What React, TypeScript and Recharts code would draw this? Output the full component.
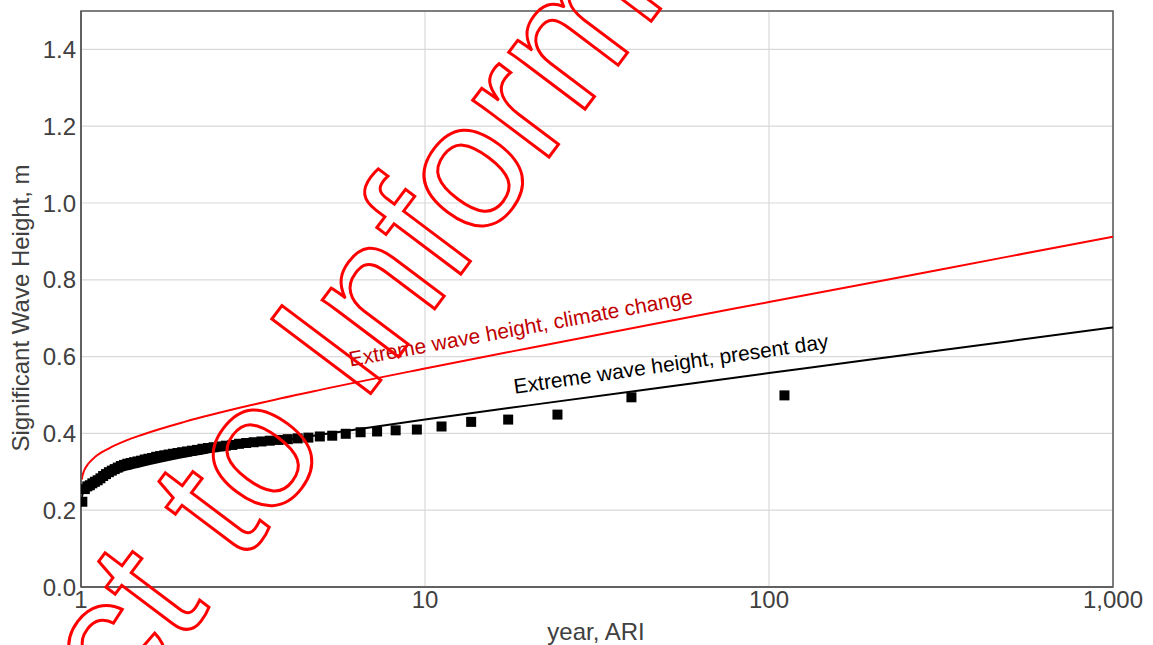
import React from 'react';
import {
  ComposedChart,
  Line,
  Scatter,
  XAxis,
  YAxis,
  CartesianGrid,
  ReferenceArea
} from 'recharts';

const FONT = '"Liberation Sans", Arial, sans-serif';

// annual maxima: return period (years) and height (m)
const obsAri = [
  110.9, 39.82, 24.27, 17.45, 13.62, 11.17, 9.47, 8.217, 7.257, 6.498,
  5.883, 5.374, 4.946, 4.581, 4.266, 3.992, 3.751, 3.538, 3.347, 3.176,
  3.021, 2.881, 2.754, 2.637, 2.529, 2.43, 2.339, 2.254, 2.175, 2.101,
  2.033, 1.968, 1.908, 1.851, 1.797, 1.747, 1.699, 1.654, 1.611, 1.57,
  1.532, 1.495, 1.46, 1.426, 1.394, 1.363, 1.334, 1.306, 1.279, 1.253,
  1.229, 1.205, 1.182, 1.16, 1.139, 1.118, 1.098, 1.079, 1.061, 1.043,
  1.026, 1.009
];
const obsHeight = [
  0.499, 0.494, 0.449, 0.436, 0.43, 0.418, 0.41, 0.408, 0.405, 0.403,
  0.399, 0.394, 0.392, 0.389, 0.387, 0.385, 0.383, 0.381, 0.379, 0.377,
  0.375, 0.373, 0.37, 0.368, 0.366, 0.364, 0.362, 0.36, 0.357, 0.355,
  0.353, 0.351, 0.349, 0.347, 0.345, 0.343, 0.341, 0.339, 0.336, 0.334,
  0.332, 0.329, 0.327, 0.325, 0.323, 0.321, 0.318, 0.315, 0.311, 0.307,
  0.303, 0.299, 0.294, 0.289, 0.283, 0.278, 0.274, 0.27, 0.265, 0.262,
  0.255, 0.222
];

// fitted extreme value curves
const curveAri = [1.005, 1.01, 1.02, 1.05, 1.1, 1.2, 1.35, 1.5, 2, 3, 5, 10, 20, 50, 100, 200, 500, 1000];
const presentDay = [0.234, 0.241, 0.249, 0.263, 0.275, 0.29, 0.305, 0.315, 0.339, 0.366, 0.397, 0.436, 0.473, 0.521, 0.557, 0.593, 0.64, 0.676];
const climateChange = [0.28, 0.29, 0.302, 0.321, 0.339, 0.36, 0.381, 0.396, 0.43, 0.47, 0.514, 0.569, 0.622, 0.691, 0.742, 0.793, 0.861, 0.912];

const xTicks = [1, 10, 100, 1000];
const yTicks = [0, 0.2, 0.4, 0.6, 0.8, 1.0, 1.2, 1.4];

const obsData = obsAri.map((x, i) => ({ x, y: obsHeight[i] }));
const presentData = curveAri.map((x, i) => ({ x, y: presentDay[i] }));
const climateData = curveAri.map((x, i) => ({ x, y: climateChange[i] }));

const Square = (props: any) => {
  const { cx, cy } = props;
  if (cx == null || cy == null) return null;
  return <rect x={cx - 5} y={cy - 5} width={10} height={10} fill="#000" />;
};

export default function App() {
  const tickStyle = { fontSize: 24, fill: '#404040', fontFamily: FONT };
  return (
    <div style={{ position: 'absolute', left: 0, top: 0, width: 1153, height: 645, background: '#fff' }}>
      <ComposedChart
        width={1153}
        height={645}
        margin={{ top: 11, right: 40, left: 0, bottom: 0 }}
      >
        <CartesianGrid stroke="#d9d9d9" strokeWidth={1.2} />
        <XAxis
          type="number"
          dataKey="x"
          scale="log"
          domain={[1, 1000]}
          ticks={xTicks}
          allowDataOverflow
          height={58}
          tickLine={false}
          tickSize={0}
          tickMargin={4}
          axisLine={{ stroke: '#595959', strokeWidth: 1.5 }}
          tick={tickStyle}
          tickFormatter={(v: number) => v.toLocaleString('en-US')}
        />
        <YAxis
          type="number"
          dataKey="y"
          domain={[0, 1.5]}
          ticks={yTicks}
          allowDataOverflow
          width={81}
          tickLine={false}
          tickSize={0}
          tickMargin={5}
          axisLine={{ stroke: '#595959', strokeWidth: 1.5 }}
          tick={tickStyle}
          tickFormatter={(v: number) => v.toFixed(1)}
        />
        <ReferenceArea x1={1} x2={1000} y1={0} y2={1.5} fill="none" stroke="#595959" strokeWidth={1.5} />
        <Line
          data={presentData}
          dataKey="y"
          type="monotone"
          stroke="#000"
          strokeWidth={2}
          dot={false}
          isAnimationActive={false}
        />
        <Scatter data={obsData} dataKey="y" shape={Square} isAnimationActive={false} />
        <Line
          data={climateData}
          dataKey="y"
          type="monotone"
          stroke="#ff0000"
          strokeWidth={2}
          dot={false}
          isAnimationActive={false}
        />
      </ComposedChart>
      <svg
        width={1153}
        height={645}
        style={{ position: 'absolute', left: 0, top: 0, pointerEvents: 'none' }}
        fontFamily={FONT}
      >
        <text
          x={20}
          y={308}
          transform="rotate(-90 20 308)"
          textAnchor="middle"
          dominantBaseline="central"
          fontSize={24}
          fill="#404040"
        >
          Significant Wave Height, m
        </text>
        <text x={596} y={640} textAnchor="middle" fontSize={24} fill="#404040">
          year, ARI
        </text>
        <text x={522} y={335} transform="rotate(-10.4 522 335)" textAnchor="middle" fontSize={21} fill="#c00000">
          Extreme wave height, climate change
        </text>
        <text x={672} y={371} transform="rotate(-8.2 672 371)" textAnchor="middle" fontSize={21} fill="#000">
          Extreme wave height, present day
        </text>
        <text
          x={-151}
          y={1086}
          transform="rotate(-53 -151 1086)"
          fontSize={180}
          fill="none"
          stroke="#ff0000"
          strokeWidth={3}
        >
          Subject to Information
        </text>
      </svg>
    </div>
  );
}
